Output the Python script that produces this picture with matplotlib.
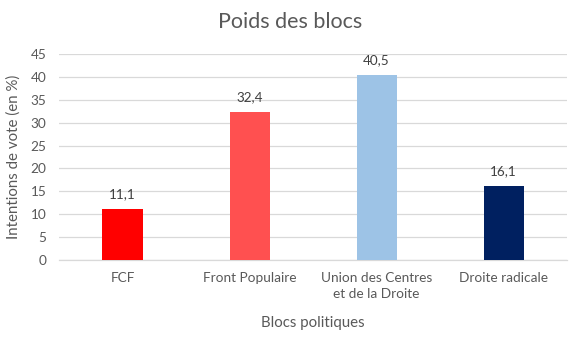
import matplotlib.pyplot as plt
from matplotlib import rcParams

rcParams["font.family"] = ["Lato", "DejaVu Sans"]

# blocs et intentions de vote (%)
blocs = ["FCF", "Front Populaire", "Union des Centres\net de la Droite", "Droite radicale"]
intentions = [11.1, 32.4, 40.5, 16.1]
couleurs = ["#FF0000", "#FF5050", "#9DC3E6", "#002060"]
yticks = [0, 5, 10, 15, 20, 25, 30, 35, 40, 45]

TXT = "#595959"

fig = plt.figure(figsize=(5.8, 3.42), dpi=100)
ax = fig.add_axes([0.1017, 0.2398, 0.876, 0.602])

x = range(len(blocs))
bars = ax.bar(x, intentions, width=0.315, color=couleurs, zorder=3)

for b, v in zip(bars, intentions):
    ax.annotate(f"{v:.1f}".replace(".", ","),
                xy=(b.get_x() + b.get_width() / 2, v),
                xytext=(0, 6.5), textcoords="offset points",
                ha="center", va="bottom", fontsize=9.7, color="#404040")

ax.set_xlim(-0.5, len(blocs) - 0.5)
ax.set_ylim(0, 45)
ax.set_yticks(yticks)
ax.set_xticks(list(x))
ax.set_xticklabels(blocs, fontsize=9.8, color=TXT, linespacing=1.45)
ax.tick_params(axis="y", labelsize=9.8, labelcolor=TXT, length=0, pad=9)
ax.tick_params(axis="x", length=0, pad=8.5)

ax.grid(axis="y", color="#D9D9D9", lw=0.9, zorder=0)
for s in ["top", "right", "left"]:
    ax.spines[s].set_visible(False)
ax.spines["bottom"].set_color("#D9D9D9")
ax.spines["bottom"].set_linewidth(0.9)

ax.set_ylabel("Intentions de vote (en %)", fontsize=10.8, color=TXT, labelpad=7)
ax.set_xlabel("Blocs politiques", fontsize=10.8, color=TXT, labelpad=11)
fig.text(0.5, 0.935, "Poids des blocs", ha="center", va="center",
         fontsize=15.5, color=TXT)

plt.savefig("out.png", dpi=100)
